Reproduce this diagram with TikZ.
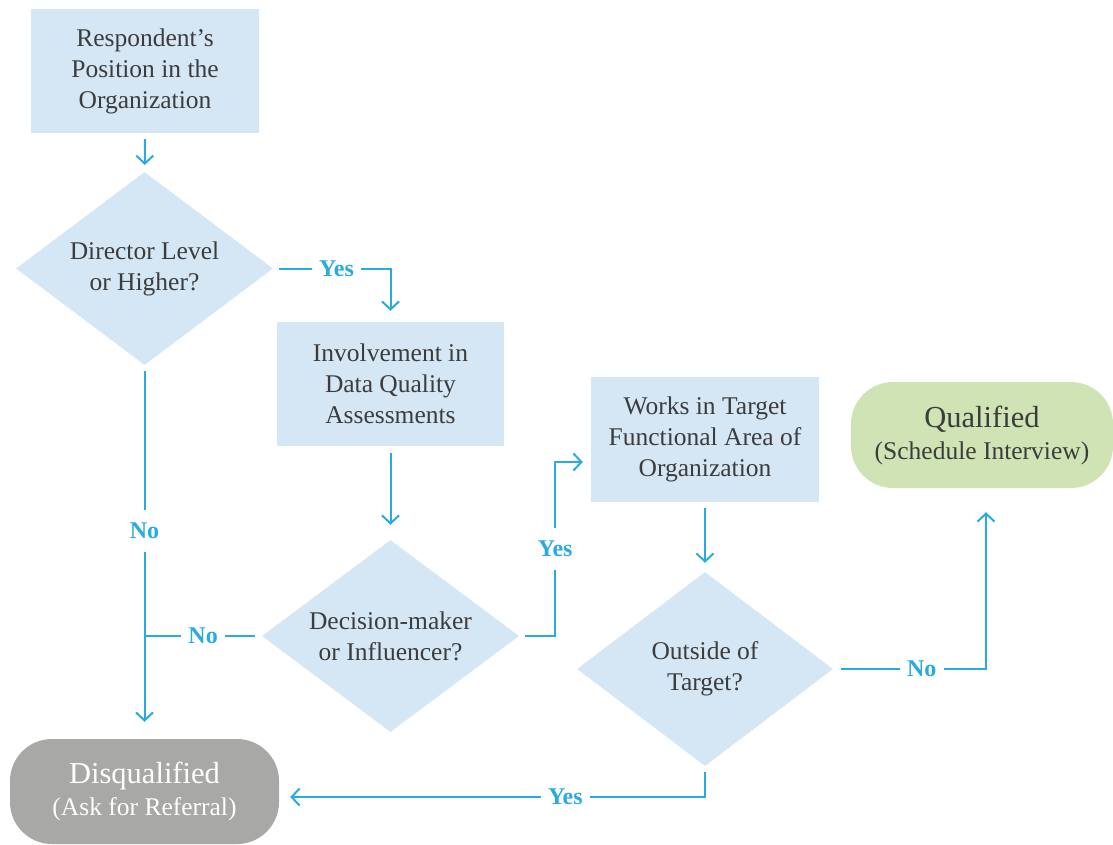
\documentclass[tikz,border=0pt]{standalone}
\usepackage{fontspec}
\newfontfamily\tms{LiberationSerif}[Extension=.ttf, UprightFont=*-Regular, BoldFont=*-Bold, ItalicFont=*-Italic, BoldItalicFont=*-BoldItalic]
\usetikzlibrary{shapes.geometric,arrows.meta,calc}
\definecolor{boxblue}{HTML}{D5E7F5}
\definecolor{lineblue}{HTML}{29ABE2}
\definecolor{qgreen}{HTML}{CFE3B4}
\definecolor{dqgray}{HTML}{A8A8A6}
\definecolor{txtgray}{HTML}{3C3C3C}
\begin{document}
\begin{tikzpicture}[x=1pt,y=-1pt,
 procbox/.style={rectangle, fill=boxblue, draw=none, inner sep=0pt, align=center, text=txtgray, font=\tms\fontsize{25.5}{31}\selectfont},
 decision/.style={diamond, fill=boxblue, draw=none, inner sep=0pt},
 dtext/.style={align=center, text=txtgray, font=\tms\fontsize{25.5}{31}\selectfont},
 terminal/.style={rectangle, rounded corners=42pt, inner sep=0pt, align=center, font=\tms\fontsize{25.5}{31}\selectfont},
 conn/.style={draw=lineblue, line width=2pt},
 arr/.style={conn, -{Straight Barb[length=8pt,width=17pt,line width=2pt]}},
 lbl/.style={fill=white, text=lineblue, font=\tms\bfseries\fontsize{24}{28}\selectfont, inner xsep=7pt, inner ysep=4pt},
 lblv/.style={lbl, inner xsep=4pt, inner ysep=13pt}
]
\useasboundingbox (0,0) rectangle (1113,844);

% process boxes
\node[procbox, minimum width=228pt, minimum height=124pt] (b1) at (145,71) {Respondent’s\\Position in the\\Organization};
\node[procbox, minimum width=227pt, minimum height=124pt] (b2) at (390.5,384) {Involvement in\\Data Quality\\Assessments};
\node[procbox, minimum width=228pt, minimum height=125pt] (b3) at (705,439.5) {Works in Target\\Functional Area of\\Organization};

% decisions
\node[decision, minimum width=257pt, minimum height=193pt] (d1) at (144.5,268.5) {};
\node[dtext] (t1) at (d1) {Director Level\\or Higher?};
\node[decision, minimum width=257pt, minimum height=192pt] (d2) at (390.5,636) {};
\node[dtext] (t2) at (d2) {Decision-maker\\or Influencer?};
\node[decision, minimum width=256pt, minimum height=194pt] (d3) at (705,669) {};
\node[dtext] (t3) at (d3) {Outside of\\Target?};

% terminals
\node[terminal, fill=qgreen, text=txtgray, minimum width=262pt, minimum height=106pt] (q) at (982,435)
  {{\fontsize{30.5}{34}\selectfont Qualified}\\[1pt]{(Schedule Interview)}};
\node[terminal, fill=dqgray, text=white, minimum width=269pt, minimum height=105pt] (dq) at (144.5,791.5)
  {{\fontsize{30.5}{34}\selectfont Disqualified}\\[1pt]{(Ask for Referral)}};

% helper coordinates
\coordinate (j) at (d1.south |- d2.west);
\coordinate (b3in) at ($(b3.west)+(0,22.5)$);
\coordinate (qin) at ($(q.south)+(4,0)$);
\coordinate (dqin) at ($(dq.east)+(0,5.5)$);

% connectors
\draw[arr, shorten <=6pt, shorten >=7pt] (b1) -- (d1);
\draw[arr, shorten <=6pt, shorten >=11pt] (d1.east) -| node[lbl, pos=0.27] {Yes} (b2.north);
\draw[arr, shorten <=7pt, shorten >=15pt] (b2) -- (d2);
\draw[arr, shorten <=6pt, shorten >=17pt] (d1.south) -- node[lblv, pos=0.444] {No} (dq.north);
\draw[conn, shorten <=7pt] (d2.west) -- node[lbl, midway] {No} (j);
\draw[arr, shorten <=6pt, shorten >=8pt] (d2.east) -- ++(36,0) |- node[lblv, pos=0.25] {Yes} (b3in);
\draw[arr, shorten <=6pt, shorten >=9pt] (b3) -- (d3);
\draw[arr, shorten <=8pt, shorten >=24pt] (d3.east) -| node[lbl, pos=0.29] {No} (qin);
\draw[arr, shorten <=6pt, shorten >=11pt] (d3.south) |- node[lbl, pos=0.664] {Yes} (dqin);
\end{tikzpicture}
\end{document}
